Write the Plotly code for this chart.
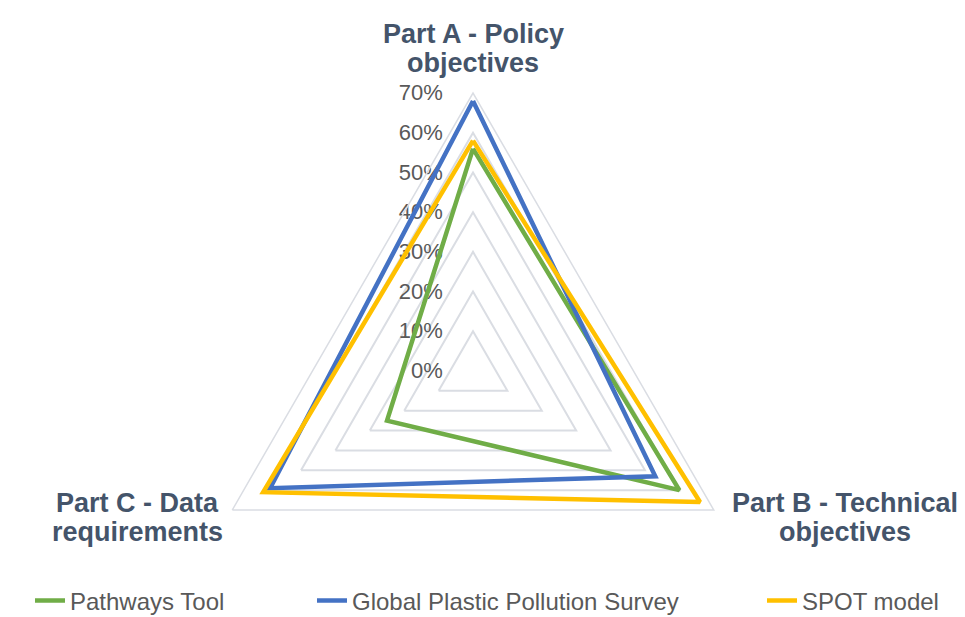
import plotly.graph_objects as go

# ---- data ----
categories = ["Part A - Policy objectives", "Part B - Technical objectives", "Part C - Data requirements"]
label_lines = [["Part A - Policy", "objectives"], ["Part B - Technical", "objectives"], ["Part C - Data", "requirements"]]
pathways_tool = [56, 60, 25]
global_plastic_survey = [68, 53, 59]
spot_model = [58, 66, 61]
radial_ticks = [0, 10, 20, 30, 40, 50, 60, 70]
radial_tick_labels = ["0%", "10%", "20%", "30%", "40%", "50%", "60%", "70%"]

series = [
    ("Pathways Tool", pathways_tool, "#70AD47", "legend"),
    ("Global Plastic Pollution Survey", global_plastic_survey, "#4472C4", "legend2"),
    ("SPOT model", spot_model, "#FFC000", "legend3"),
]

W, H = 965, 650
def py(px):
    return (H - px) / H
def px_x(px):
    return px / W

fig = go.Figure()
for name, vals, color, leg in series:
    fig.add_trace(go.Scatterpolar(
        r=vals + vals[:1], theta=categories + categories[:1],
        mode="lines", name=name, legend=leg, showlegend=True,
        line=dict(color=color, width=4.5),
        hoverinfo="skip",
    ))

cx, cy, R = 473, 371, 278
legend_font = dict(size=24, color="#595959", family="Liberation Sans, Arial, sans-serif")
fig.update_layout(
    width=W, height=H,
    margin=dict(l=0, r=0, t=0, b=0),
    showlegend=True,
    paper_bgcolor="white", plot_bgcolor="white",
    font=dict(family="Liberation Sans, Arial, sans-serif", color="#595959"),
    polar=dict(
        domain=dict(x=[px_x(cx - R), px_x(cx + R)], y=[(H - cy - R) / H, (H - cy + R) / H]),
        gridshape="linear",
        bgcolor="white",
        radialaxis=dict(
            range=[0, 70], tickvals=radial_ticks, ticktext=radial_tick_labels,
            angle=90, tickangle=90, side="counterclockwise",
            showline=False, ticks="outside", ticklen=22, tickcolor="rgba(0,0,0,0)",
            gridcolor="#DADDE3", gridwidth=1.5,
            tickfont=dict(size=22, color="#595959"),
            layer="below traces",
        ),
        angularaxis=dict(
            type="category", categoryarray=categories,
            direction="clockwise", rotation=90,
            showline=True, linecolor="#DADDE3", linewidth=1.5,
            showgrid=False, showticklabels=False, ticks="",
        ),
    ),
    legend=dict(orientation="h", x=px_x(30), y=py(601), yanchor="middle", xanchor="left",
                font=legend_font),
    legend2=dict(orientation="h", x=px_x(312), y=py(601), yanchor="middle", xanchor="left",
                 font=legend_font),
    legend3=dict(orientation="h", x=px_x(762), y=py(601), yanchor="middle", xanchor="left",
                 font=legend_font),
)

label_pos = [(473, 34, 63), (845, 503, 532), (137, 503, 532)]
for lines, (x, y1, y2) in zip(label_lines, label_pos):
    for txt, yy in zip(lines, (y1, y2)):
        fig.add_annotation(text=txt, x=px_x(x), y=py(yy), xref="paper", yref="paper",
                           xanchor="center", yanchor="middle", showarrow=False,
                           font=dict(size=27, color="#44546A", family="Liberation Sans, Arial, sans-serif", weight="bold"))

fig.write_html("out.html",
               post_script="document.body.style.overflow='hidden';document.documentElement.style.overflow='hidden';")
